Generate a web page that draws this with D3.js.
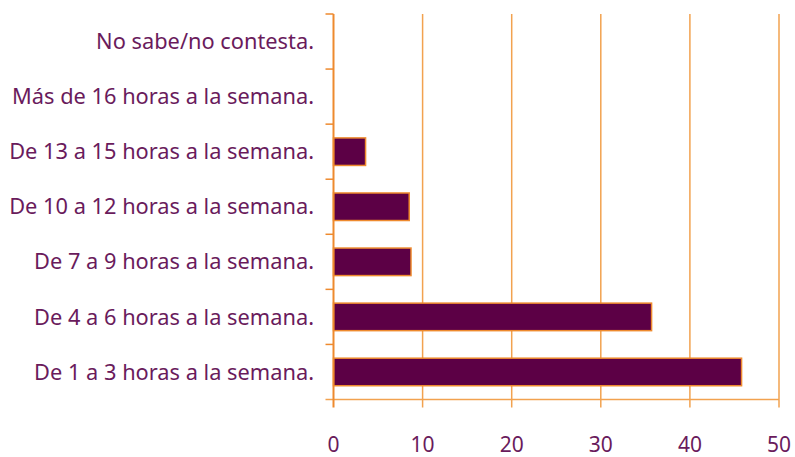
<!DOCTYPE html>
<html>
<head>
<meta charset="utf-8">
<script src="https://cdn.jsdelivr.net/npm/d3@7"></script>
<style>
  body { margin: 0; background: #fff; }
  text { font-family: 'Noto Sans', 'Open Sans', sans-serif; fill: #6a1b5c; }
</style>
</head>
<body>
<svg id="graph" width="795" height="457"></svg>
<script>
const categories = [
  "No sabe/no contesta.",
  "Más de 16 horas a la semana.",
  "De 13 a 15 horas a la semana.",
  "De 10 a 12 horas a la semana.",
  "De 7 a 9 horas a la semana.",
  "De 4 a 6 horas a la semana.",
  "De 1 a 3 horas a la semana."
];
const values = [0, 0, 3.6, 8.5, 8.7, 35.7, 45.8];
const xTicks = [0, 10, 20, 30, 40, 50];

const svg = d3.select("#graph");
const margin = {top: 14, left: 333.5};
const plotH = 385.5;
const orange = "#ee8a2e";
const gridColor = "#f2a24f";

const x = d3.scaleLinear().domain([0, 50]).range([margin.left, margin.left + 445.5]);
const y = d3.scaleBand().domain(categories).range([margin.top, margin.top + plotH])
            .paddingInner(0.5).paddingOuter(0.25);

const base = margin.top + plotH;

// vertical gridlines
svg.append("g").selectAll("line").data(xTicks.slice(1)).join("line")
   .attr("x1", d => x(d)).attr("x2", d => x(d))
   .attr("y1", margin.top).attr("y2", base + 8)
   .attr("stroke", gridColor).attr("stroke-width", 1.5);

// bottom axis line
svg.append("line")
   .attr("x1", margin.left - 8).attr("x2", x(50))
   .attr("y1", base).attr("y2", base)
   .attr("stroke", gridColor).attr("stroke-width", 1.5);

// bars
const rows = categories.map((c, i) => ({cat: c, val: values[i]}));
svg.append("g").selectAll("rect").data(rows.filter(d => d.val > 0)).join("rect")
   .attr("x", x(0))
   .attr("y", d => y(d.cat))
   .attr("width", d => x(d.val) - x(0))
   .attr("height", y.bandwidth())
   .attr("fill", "#5c0045")
   .attr("stroke", orange).attr("stroke-width", 1.5);

// y axis line and ticks at band boundaries
const bounds = d3.range(categories.length).map(i => margin.top + i * y.step());
svg.append("line")
   .attr("x1", margin.left).attr("x2", margin.left)
   .attr("y1", margin.top).attr("y2", base + 8)
   .attr("stroke", orange).attr("stroke-width", 2);
svg.append("g").selectAll("line").data(bounds).join("line")
   .attr("x1", margin.left - 8).attr("x2", margin.left)
   .attr("y1", d => d).attr("y2", d => d)
   .attr("stroke", orange).attr("stroke-width", 1.5);

// category labels
svg.append("g").selectAll("text").data(categories).join("text")
   .attr("x", 314)
   .attr("y", d => y(d) + y.bandwidth() / 2)
   .attr("dy", "0.35em")
   .attr("text-anchor", "end")
   .style("font-size", "21.8px")
   .text(d => d);

// x tick labels
svg.append("g").selectAll("text").data(xTicks).join("text")
   .attr("x", d => x(d))
   .attr("y", 452)
   .attr("text-anchor", "middle")
   .style("font-size", "21px")
   .text(d => d);
</script>
</body>
</html>
